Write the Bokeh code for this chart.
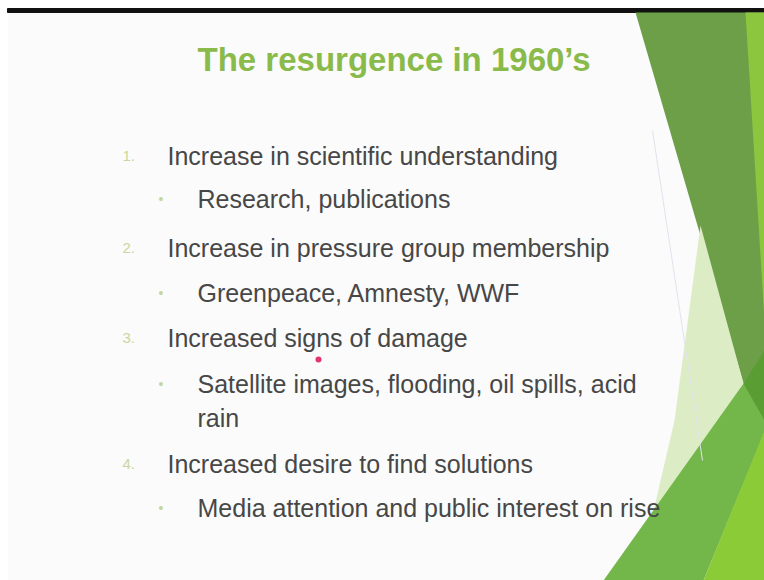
from bokeh.plotting import figure
from bokeh.models import Range1d
from bokeh.core.properties import value
from bokeh.embed import file_html
from bokeh.resources import INLINE

# ---- slide content ----
title_text = "The resurgence in 1960\u2019s"
title_pos = [197, 59]

item_labels = ["1.", "2.", "3.", "4."]
item_texts = ["Increase in scientific understanding",
              "Increase in pressure group membership",
              "Increased signs of damage",
              "Increased desire to find solutions"]
item_y = [155, 247, 337, 463]

sub_texts = ["Research, publications",
             "Greenpeace, Amnesty, WWF",
             "Satellite images, flooding, oil spills, acid",
             "rain",
             "Media attention and public interest on rise"]
sub_y = [198, 292, 383, 417, 507]
sub_bullet = [True, True, True, False, True]

# ---- decorative theme shapes (slide pixel coordinates) ----
shape_xs = [[635, 764, 764, 743],                       # dark green
            [745, 764, 764],                            # bright strip top
            [700, 743, 652, 674],                       # pale translucent
            [603, 743, 764, 764, 703],                  # mid green
            [743, 764, 764],                            # darker tip
            [764, 764, 703]]                            # bright bottom
shape_ys = [[12, 12, 420, 383],
            [12, 12, 320],
            [225, 383, 515, 420],
            [580, 383, 405, 432, 580],
            [383, 350, 420],
            [430, 580, 580]]
shape_colors = ["#6d9f48", "#8cc63f", "#dcedc6", "#73b64a", "#5a9d32", "#8ccb38"]

W, H = 764, 580
p = figure(width=W, height=H, output_backend="svg", toolbar_location=None,
           x_range=Range1d(0, W), y_range=Range1d(H, 0),
           min_border=0, background_fill_color="#fbfbfb",
           border_fill_color="#ffffff", outline_line_color=None)
p.axis.visible = False
p.grid.visible = False

# left white page edge and top black bar
p.quad(left=[0], right=[7], top=[0], bottom=[H], color="#ffffff")
p.quad(left=[0], right=[7], top=[0], bottom=[H], color="#ffffff")
p.quad(left=[0], right=[W], top=[0], bottom=[8], color="#ffffff")
p.quad(left=[7], right=[W], top=[8], bottom=[12], color="#111111")

p.patches(xs=shape_xs, ys=shape_ys, fill_color=shape_colors, line_color=None)
# faint theme line
p.line(x=[652, 702], y=[130, 460], line_color="#e2e2ee", line_width=1)

font = value("Liberation Sans")

p.text(x=[title_pos[0]], y=[title_pos[1]], text=[title_text], text_font=font,
       text_font_style="bold", text_font_size="33px", text_color="#8aba4a",
       text_baseline="middle", text_align="left")

p.text(x=[122] * 4, y=item_y, text=item_labels, text_font=font,
       text_font_size="15px", text_color="#c9d79e",
       text_baseline="middle", text_align="left")
p.text(x=[167] * 4, y=item_y, text=item_texts, text_font=font,
       text_font_size="25px", text_color="#474747",
       text_baseline="middle", text_align="left")

by = [y for y, b in zip(sub_y, sub_bullet) if b]
p.text(x=[158] * len(by), y=by, text=["\u2022"] * len(by), text_font=font,
       text_font_size="14px", text_color="#c5d59c",
       text_baseline="middle", text_align="left")
p.text(x=[197] * len(sub_texts), y=sub_y, text=sub_texts, text_font=font,
       text_font_size="25px", text_color="#474747",
       text_baseline="middle", text_align="left")

# laser pointer dot
p.scatter(x=[318], y=[359], size=6, color="#e0356e", line_color=None)

open("out.html", "w").write(file_html(p, INLINE))
